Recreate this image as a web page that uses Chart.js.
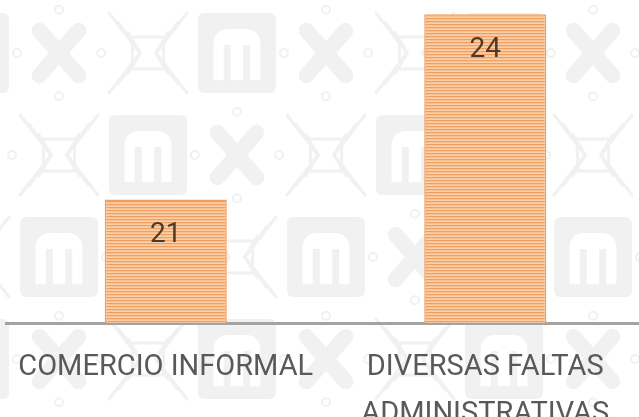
<!DOCTYPE html>
<html>
<head>
<meta charset="utf-8">
<script src="https://cdn.jsdelivr.net/npm/chart.js@4"></script>
<style>
  html, body { margin: 0; padding: 0; background: #fff; overflow: hidden; }
  #wrap { width: 645px; height: 417px; }
</style>
</head>
<body>
<div id="wrap"><canvas id="faltasChart"></canvas></div>
<script>
// Chart data
const categories = [['COMERCIO INFORMAL'], ['DIVERSAS FALTAS', 'ADMINISTRATIVAS']];
const totals = [21, 24];
const axisMin = 19;
const axisMax = 24.23;

const labelFont = 'Roboto, "Liberation Sans", Arial, sans-serif';

// Function to build the striped orange fill of the bars
function makeStripes() {
    const c = document.createElement('canvas');
    c.width = 4;
    c.height = 3;
    const g = c.getContext('2d');
    const rows = ['#f19f60', '#f7c395', '#fad0aa'];
    rows.forEach((col, i) => {
        g.fillStyle = col;
        g.fillRect(0, i, 4, 1);
    });
    return g.createPattern(c, 'repeat');
}

// Watermark tiles: metro "m", knot and fret square
const tileGray = '#f1f1f1';

function drawMetro(ctx, x, y, w, h) {
    ctx.fillStyle = tileGray;
    ctx.beginPath();
    ctx.roundRect(x, y, w, h, 6);
    ctx.fill();
    ctx.fillStyle = '#ffffff';
    ctx.beginPath();
    ctx.roundRect(x + 0.2 * w, y + 0.2 * h, 0.6 * w, 0.64 * h, [0.18 * w, 0.18 * w, 0, 0]);
    ctx.fill();
    ctx.fillStyle = tileGray;
    ctx.fillRect(x + 0.33 * w, y + 0.4 * h, 0.09 * w, 0.44 * h);
    ctx.fillRect(x + 0.58 * w, y + 0.4 * h, 0.09 * w, 0.44 * h);
}

function drawKnot(ctx, x, y, w, h) {
    ctx.strokeStyle = tileGray;
    ctx.lineCap = 'round';
    ctx.lineWidth = 0.2 * w;
    ctx.beginPath();
    ctx.moveTo(x + 0.25 * w, y + 0.22 * h);
    ctx.lineTo(x + 0.75 * w, y + 0.78 * h);
    ctx.moveTo(x + 0.75 * w, y + 0.22 * h);
    ctx.lineTo(x + 0.25 * w, y + 0.78 * h);
    ctx.stroke();
    ctx.lineWidth = 2;
    [[0.5, -0.04], [0.5, 1.04], [-0.04, 0.5], [1.04, 0.5]].forEach(([px, py]) => {
        ctx.beginPath();
        ctx.arc(x + px * w, y + py * h, 4, 0, Math.PI * 2);
        ctx.stroke();
    });
}

function drawFret(ctx, x, y, w, h) {
    ctx.strokeStyle = tileGray;
    ctx.lineWidth = 3;
    const cx = x + w / 2;
    const cy = y + h / 2;
    for (let k = 0; k < 3; k++) {
        const d = 0.5 - k * 0.12;
        ctx.beginPath();
        ctx.moveTo(cx - d * w, cy - d * h);
        ctx.lineTo(cx - 0.1 * w, cy);
        ctx.lineTo(cx - d * w, cy + d * h);
        ctx.moveTo(cx + d * w, cy - d * h);
        ctx.lineTo(cx + 0.1 * w, cy);
        ctx.lineTo(cx + d * w, cy + d * h);
        ctx.stroke();
    }
    ctx.strokeRect(cx - 0.2 * w, cy - 0.2 * h, 0.4 * w, 0.4 * h);
}

const watermark = {
    id: 'watermark',
    beforeDraw(chart) {
        const ctx = chart.ctx;
        const tiles = [drawKnot, drawFret, drawMetro];
        ctx.save();
        ctx.fillStyle = '#ffffff';
        ctx.fillRect(0, 0, chart.width, chart.height);
        for (let r = 0; r < 4; r++) {
            for (let c = -1; c < 8; c++) {
                const fn = tiles[((c + r) % 3 + 3) % 3];
                fn(ctx, 20 + 89 * c, 13 + 102 * r, 78, 80);
            }
        }
        ctx.restore();
    }
};

// Value labels inside the top of each bar
const barValues = {
    id: 'barValues',
    afterDatasetsDraw(chart) {
        const ctx = chart.ctx;
        const meta = chart.getDatasetMeta(0);
        ctx.save();
        ctx.font = '28px ' + labelFont;
        ctx.fillStyle = '#4e3a2a';
        ctx.textAlign = 'center';
        ctx.textBaseline = 'middle';
        meta.data.forEach((bar, i) => {
            ctx.fillText(String(totals[i]), bar.x, bar.y + 36);
        });
        ctx.restore();
    }
};

const ctx = document.getElementById('faltasChart').getContext('2d');
new Chart(ctx, {
    type: 'bar',
    data: {
        labels: categories,
        datasets: [{
            data: totals,
            backgroundColor: makeStripes(),
            borderColor: '#f09e5e',
            borderWidth: 1.5,
            barPercentage: 0.382,
            categoryPercentage: 1
        }]
    },
    options: {
        responsive: true,
        maintainAspectRatio: false,
        animation: false,
        layout: { padding: { left: 6, right: 0, top: 0, bottom: 0 } },
        plugins: {
            legend: { display: false },
            tooltip: { enabled: false }
        },
        scales: {
            x: {
                grid: { display: false, drawTicks: false },
                border: { display: true, color: '#a3a3a3', width: 3 },
                ticks: {
                    color: '#595959',
                    padding: 22,
                    autoSkip: false,
                    maxRotation: 0,
                    minRotation: 0,
                    font: { family: labelFont, size: 29, lineHeight: 1.6 }
                },
                afterFit(scale) {
                    scale.height = 94;
                    scale.paddingLeft = 0;
                    scale.paddingRight = 0;
                }
            },
            y: {
                display: false,
                min: axisMin,
                max: axisMax
            }
        }
    },
    plugins: [watermark, barValues]
});
</script>
</body>
</html>
